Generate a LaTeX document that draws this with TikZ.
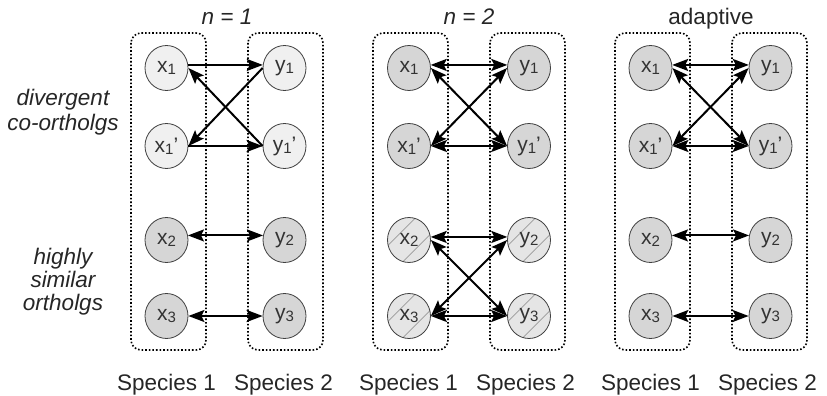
\documentclass[tikz,border=0pt]{standalone}
\usepackage{fontspec}
\setmainfont{Liberation Sans}
\usetikzlibrary{arrows.meta,shapes.geometric,calc}

% small index digit after a gene letter
\newcommand\gidx[1]{\raisebox{-0.2ex}{\fontsize{15}{15}\selectfont #1}}

\tikzset{
  gene/.style={ellipse, draw=black!75, line width=0.8pt, minimum width=43pt,
    minimum height=45pt, inner sep=0pt, text=black!80,
    font=\fontsize{21}{21}\selectfont},
  lightgene/.style={gene, fill=gray!12},
  darkgene/.style={gene, fill=gray!32},
  hatchgene/.style={gene, fill=gray!20, path picture={
      \foreach \k in {-11,11}{
        \draw[gray!80, line width=0.7pt]
          ($(path picture bounding box.center)+(\k*0.707pt,-\k*0.707pt)+(-30pt,-30pt)$)
          -- ++(60pt,60pt);
      }}},
  speciesbox/.style={draw=black, dotted, line width=1.6pt, rounded corners=10pt},
  gtip/.tip={Stealth[length=16pt,width=12pt,inset=3pt]},
  onearrow/.style={line width=2pt, -gtip},
  twoarrow/.style={line width=2pt, gtip-gtip},
  txt/.style={font=\fontsize{22.5}{25}\selectfont, anchor=base, inner sep=0pt,
    text=black!85},
}

\begin{document}
\begin{tikzpicture}[x=1pt,y=-1pt]
\useasboundingbox (0,0) rectangle (827,396);

% row labels
\node[txt] (d1) at (63,105) {\itshape divergent};
\node[txt] (d2) at (63,130) {\itshape co-ortholgs};
\node[txt] (h1) at (63,264) {\itshape highly};
\node[txt] (h2) at (63,287) {\itshape similar};
\node[txt] (h3) at (63,310) {\itshape ortholgs};

% three panels: species boxes and captions
\foreach \p/\cap in {0/{\itshape n = 1}, 1/{\itshape n = 2}, 2/{adaptive}}{
  \pgfmathsetmacro\dx{242*\p}
  \begin{scope}[xshift=\dx pt]
    \draw[speciesbox] (131,33) rectangle (206,350);
    \draw[speciesbox] (248,33) rectangle (323,350);
    \node[txt] (cap\p) at (227,25) {\cap};
    \node[txt] (sa\p) at (166.5,390) {Species 1};
    \node[txt] (sb\p) at (283.5,390) {Species 2};
  \end{scope}
}

% panel n = 1
\node[lightgene] (ax1)  at (166.5,68)  {x\gidx{1}};
\node[lightgene] (ax1p) at (166.5,146) {x\gidx{1}'};
\node[darkgene]  (ax2)  at (166.5,240) {x\gidx{2}};
\node[darkgene]  (ax3)  at (166.5,316) {x\gidx{3}};
\node[lightgene] (ay1)  at (284.5,68)  {y\gidx{1}};
\node[lightgene] (ay1p) at (284.5,146) {y\gidx{1}'};
\node[darkgene]  (ay2)  at (284.5,240) {y\gidx{2}};
\node[darkgene]  (ay3)  at (284.5,316) {y\gidx{3}};
\draw[onearrow] (ax1.8) -- (ay1.172);
\draw[onearrow] (ay1.west) -- (ax1p.east);
\draw[onearrow] (ay1p.west) -- (ax1.east);
\draw[onearrow] (ax1p.east) -- (ay1p.west);
\draw[twoarrow] (ax2.12) -- (ay2.168);
\draw[twoarrow] (ax3.east) -- (ay3.west);

% panel n = 2
\node[darkgene]  (bx1)  at (409,68)  {x\gidx{1}};
\node[darkgene]  (bx1p) at (409,146) {x\gidx{1}'};
\node[hatchgene] (bx2)  at (409,240) {x\gidx{2}};
\node[hatchgene] (bx3)  at (409,316) {x\gidx{3}};
\node[darkgene]  (by1)  at (529,68)  {y\gidx{1}};
\node[darkgene]  (by1p) at (529,146) {y\gidx{1}'};
\node[hatchgene] (by2)  at (529,240) {y\gidx{2}};
\node[hatchgene] (by3)  at (529,316) {y\gidx{3}};
\draw[twoarrow] (bx1.8) -- (by1.172);
\draw[twoarrow] (bx1p.east) -- (by1p.west);
\draw[twoarrow] (bx1.east) -- (by1p.west);
\draw[twoarrow] (bx1p.east) -- (by1.west);
\draw[twoarrow] (bx2.8) -- (by2.172);
\draw[twoarrow] (bx3.east) -- (by3.west);
\draw[twoarrow] (bx2.east) -- (by3.west);
\draw[twoarrow] (bx3.east) -- (by2.west);

% panel adaptive
\node[darkgene] (cx1)  at (650.5,68)  {x\gidx{1}};
\node[darkgene] (cx1p) at (650.5,146) {x\gidx{1}'};
\node[darkgene] (cx2)  at (650.5,240) {x\gidx{2}};
\node[darkgene] (cx3)  at (650.5,316) {x\gidx{3}};
\node[darkgene] (cy1)  at (770.5,68)  {y\gidx{1}};
\node[darkgene] (cy1p) at (770.5,146) {y\gidx{1}'};
\node[darkgene] (cy2)  at (770.5,240) {y\gidx{2}};
\node[darkgene] (cy3)  at (770.5,316) {y\gidx{3}};
\draw[twoarrow] (cx1.8) -- (cy1.172);
\draw[twoarrow] (cx1p.east) -- (cy1p.west);
\draw[twoarrow] (cx1.east) -- (cy1p.west);
\draw[twoarrow] (cx1p.east) -- (cy1.west);
\draw[twoarrow] (cx2.12) -- (cy2.168);
\draw[twoarrow] (cx3.east) -- (cy3.west);
\end{tikzpicture}
\end{document}
